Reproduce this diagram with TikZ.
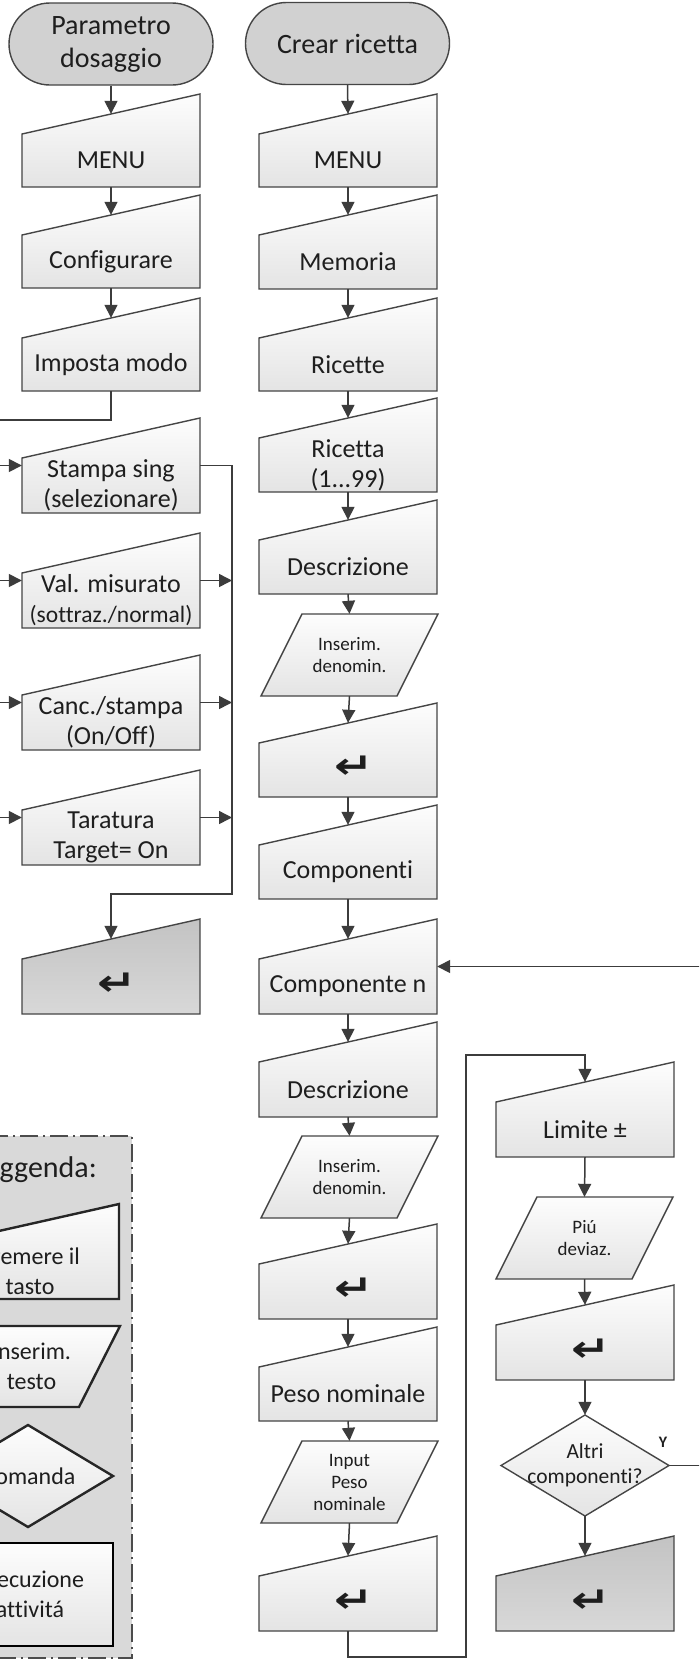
\documentclass[tikz,border=0pt]{standalone}
\usepackage{graphicx}
\usepackage{fontspec}
\setmainfont{Carlito}[Ligatures=CommonOff]
\newfontfamily\symfont{DejaVu Sans}
\usetikzlibrary{arrows.meta}

\definecolor{edge}{HTML}{454545}
\definecolor{ink}{HTML}{1E1E1E}
\definecolor{arrowc}{HTML}{3C3C3C}
\definecolor{boxtop}{HTML}{FDFDFD}
\definecolor{boxbot}{HTML}{E4E4E4}
\definecolor{termfill}{HTML}{D1D1D1}
\definecolor{darktop}{HTML}{C3C3C3}
\definecolor{darkbot}{HTML}{D8D8D8}
\definecolor{legendbg}{HTML}{D9D9D9}

\newcommand\mainsize{\fontsize{26}{30}\selectfont}
\newcommand\smallsize{\fontsize{19}{22}\selectfont}
\newcommand\legsize{\fontsize{24}{30}\selectfont}
\newcommand\boxfont{\mainsize}
\newcommand\iofont{\smallsize}
% return-key glyph, set a little right of and above the box centre
\newcommand\entr{{\hspace*{12pt}\raisebox{5pt}{\scalebox{1.3}[1]{\symfont\bfseries\fontsize{36}{36}\selectfont ↵}}}}

\tikzset{
  keyline/.style={draw=edge, line width=1.4pt, line join=miter},
  keyfill/.style={top color=boxtop, bottom color=boxbot},
  darkfill/.style={top color=darktop, bottom color=darkbot},
  legline/.style={draw=black!85, line width=2.4pt},
  boxtext/.style={inner sep=0pt, align=center, text=ink},
  terminal/.style={draw=edge, line width=1.4pt, fill=termfill, rounded corners=41pt,
    minimum width=204pt, minimum height=82pt, inner sep=0pt, align=center, text=ink,
    font=\fontsize{28}{33}\selectfont},
  wire/.style={draw=arrowc, line width=1.5pt},
  arr/.style={wire, -{Triangle[length=13pt,width=13pt]}},
  legborder/.style={draw=black!70, line width=2.2pt,
    dash pattern=on 18pt off 5pt on 2pt off 5pt},
}

% manual-input box: name, centre x, top-right y, bottom y, text (y measured downwards)
\newcommand\keybox[6][]{%
  \path[keyline,keyfill,#1] ({#3-89},{-#5}) -- ({#3+89},{-#5}) -- ({#3+89},{-#4})
     -- ({#3-89},{-(#4+40)}) -- cycle;
  \node[boxtext, font=\boxfont, minimum width=178pt, minimum height={(#5-#4-40)*1pt}]
     (#2) at (#3,{-(#4+40+#5)/2}) {#6};
  \coordinate (#2-in) at ([yshift=20pt]#2.north);
  \coordinate (#2-l) at ([yshift=20pt]#2.west);
  \coordinate (#2-r) at ([yshift=20pt]#2.east);
}
% data-entry parallelogram: name, centre x, top y, bottom y, text
\newcommand\iobox[6][]{%
  \path[keyline,keyfill,#1] ({#3-88.5},{-#5}) -- ({#3+47.5},{-#5}) -- ({#3+88.5},{-#4})
     -- ({#3-47.5},{-#4}) -- cycle;
  \node[boxtext, font=\iofont, minimum width=136pt, minimum height={(#5-#4)*1pt}]
     (#2) at (#3,{-(#4+#5)/2}) {#6};
}

\begin{document}
\begin{tikzpicture}[x=1pt,y=1pt]
\useasboundingbox (0,0) rectangle (699,-1663);
\clip (0,0) rectangle (699,-1663);
\fill[white] (0,0) rectangle (699,-1663);

% ---------- legend ----------
\path[fill=legendbg] (-170,-1136) rectangle (132,-1658);
\draw[legborder] (-170,-1136) rectangle (132,-1658);
\node[font=\fontsize{30}{30}\selectfont, text=ink, anchor=base] (lt) at (34.5,-1177) {Leggenda:};
\renewcommand\boxfont{\legsize}
\renewcommand\iofont{\legsize}
\keybox[legline]{lk}{30}{1204}{1299}{Premere il\\tasto}
\iobox[legline]{li}{31.5}{1326}{1407}{Inserim.\\testo}
\path[legline,keyfill] (28,-1425) -- (113,-1476) -- (28,-1527) -- (-57,-1476) -- cycle;
\node[boxtext, font=\legsize] (lq) at (28,-1476) {Domanda};
\node[boxtext, font=\legsize, draw=black, line width=2.8pt, top color=boxtop, bottom color=boxbot,
  minimum width=166pt, minimum height=103pt] (lx) at (30,-1594.5) {Esecuzione\\attivitá};
\renewcommand\boxfont{\mainsize}
\renewcommand\iofont{\smallsize}

% ---------- Parametro dosaggio ----------
\node[terminal] (t1) at (111,-44) {Parametro\\dosaggio};
\keybox{L1}{111}{94}{187}{MENU}
\keybox{L2}{111}{195}{288}{Configurare}
\keybox{L3}{111}{298}{391}{Imposta modo}
\keybox{L4}{111}{418}{513}{Stampa sing\\(selezionare)}
\keybox{L5}{111}{533}{628}{Val. misurato\\{\fontsize{23.5}{26}\selectfont(sottraz./normal)}}
\keybox{L6}{111}{655}{750}{Canc./stampa\\(On/Off)}
\keybox{L7}{111}{770}{865}{Taratura\\Target= On}
\keybox[darkfill]{L8}{111}{919}{1014}{\entr}

% ---------- Crear ricetta ----------
\node[terminal] (t2) at (347.5,-43.5) {Crear ricetta};
\keybox{R1}{348}{94}{187}{MENU}
\keybox{R2}{348}{195}{289}{Memoria}
\keybox{R3}{348}{298}{391}{Ricette}
\keybox{R4}{348}{398}{492}{Ricetta\\(1...99)}
\keybox{R5}{348}{500}{594}{Descrizione}
\iobox{R6}{349.5}{614}{696}{Inserim.\\denomin.}
\keybox{R7}{348}{703}{797}{\entr}
\keybox{R8}{348}{805}{899}{Componenti}
\keybox{R9}{348}{919}{1014}{Componente n}
\keybox{R10}{348}{1022}{1117}{Descrizione}
\iobox{R11}{349.5}{1136}{1218}{Inserim.\\denomin.}
\keybox{R12}{348}{1224}{1319}{\entr}
\keybox{R13}{348}{1327}{1421}{Peso nominale}
\iobox{R14}{349.5}{1441}{1523}{Input\\Peso\\nominale}
\keybox{R15}{348}{1536}{1631}{\entr}

% ---------- limits branch ----------
\keybox{C1}{585}{1062}{1157}{Limite ±}
\iobox{C2}{584.5}{1197}{1279}{Piú\\deviaz.}
\keybox{C3}{585}{1285}{1380}{\entr}
\path[keyline,keyfill] (585,-1415) -- (669,-1465.5) -- (585,-1516) -- (501,-1465.5) -- cycle;
\node[boxtext, font=\fontsize{21.5}{25}\selectfont, minimum width=168pt, minimum height=101pt]
  (dq) at (585,-1465.5) {Altri\\componenti?};
\node[text=ink, font=\fontsize{16}{16}\selectfont\bfseries] (ylab) at (663,-1442) {Y};
\keybox[darkfill]{C4}{585}{1536}{1631}{\entr}

% ---------- connectors: left column ----------
\coordinate (busL) at (-12,-420);
\coordinate (busR) at (232,-894);
\draw[arr] (t1.south) -- (L1-in);
\draw[arr] (L1.south) -- (L2-in);
\draw[arr] (L2.south) -- (L3-in);
\draw[wire] (L3.south) |- (busL) -- (busL |- L7-l);
\foreach \n in {L4,L5,L6,L7} \draw[arr] (busL |- \n-l) -- (\n-l);
\draw[arr] (L4-r) -| (busR) -| (L8-in);
\foreach \n in {L5,L6,L7} \draw[arr] (\n-r) -- (\n-r -| busR);

% ---------- connectors: right column ----------
\draw[arr] (t2.south) -- (R1-in);
\draw[arr] (R1.south) -- (R2-in);
\draw[arr] (R2.south) -- (R3-in);
\draw[arr] (R3.south) -- (R4-in);
\draw[arr] (R4.south) -- (R5-in);
\draw[arr] (R5.south) -- (R6.north);
\draw[arr] (R6.south) -- (R7-in);
\draw[arr] (R7.south) -- (R8-in);
\draw[arr] (R8.south) -- (R9-in);
\draw[arr] (R9.south) -- (R10-in);
\draw[arr] (R10.south) -- (R11.north);
\draw[arr] (R11.south) -- (R12-in);
\draw[arr] (R12.south) -- (R13-in);
\draw[arr] (R13.south) -- (R14.north);
\draw[arr] (R14.south) -- (R15-in);

% ---------- connectors: limits branch and loop ----------
\coordinate (lpB) at (466,-1657);
\coordinate (lpT) at (466,-1055);
\coordinate (lpR) at (701,0);
\draw[arr] (R15.south) |- (lpB) -- (lpT) -| (C1-in);
\draw[arr] (C1.south) -- (C2.north);
\draw[arr] (C2.south) -- (C3-in);
\draw[arr] (C3.south) -- (dq.north);
\draw[arr] (dq.south) -- (C4-in);
\draw[arr] (dq.east) -| (lpR |- R9-r) -- (R9-r);
\end{tikzpicture}
\end{document}
